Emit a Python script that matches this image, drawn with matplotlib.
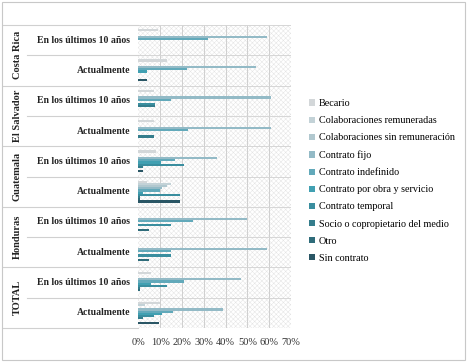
import matplotlib
matplotlib.use("Agg")
import matplotlib.pyplot as plt
import matplotlib.transforms as mtrans
from matplotlib.patches import Rectangle
from matplotlib.lines import Line2D
import numpy as np

plt.rcParams['font.family'] = ['Liberation Serif', 'DejaVu Serif']
plt.rcParams['hatch.linewidth'] = 0.35

countries = ["Costa Rica", "El Salvador", "Guatemala", "Honduras", "TOTAL"]
periods = ["En los últimos 10 años", "Actualmente"]
series = ["Becario", "Colaboraciones remuneradas", "Colaboraciones sin remuneración",
          "Contrato fijo", "Contrato indefinido", "Contrato por obra y servicio",
          "Contrato temporal", "Socio o copropietario del medio", "Otro", "Sin contrato"]
colors = ["#d3d7d9", "#c3d2d7", "#b1c8cf", "#93bac6", "#62a9ba", "#41a0b2",
          "#3a8e9f", "#347d8c", "#2f6c7a", "#2a5665"]

# values (%) per row, top to bottom; row order: country x period
# columns follow `series`
cr_10 = [9, 0, 0, 59, 32, 0, 0, 0, 0, 0]
cr_ac = [13, 0, 0, 54, 22.5, 4, 0, 0, 0, 4]
es_10 = [7, 0, 0, 61, 15, 0, 7.5, 7.5, 0, 0]
es_ac = [7, 0, 0, 61, 23, 0, 0, 7, 0, 0]
gt_10 = [8, 0, 0, 36, 17, 10.5, 21, 2, 0, 2]
gt_ac = [4, 15, 13, 11, 10, 2, 19, 1, 1, 19]
hn_10 = [0, 0, 0, 50, 25, 0, 15, 0, 5, 0]
hn_ac = [0, 0, 0, 59, 15, 0, 15, 0, 5, 0]
tt_10 = [6, 0, 0, 47, 21, 6, 13, 1, 1, 0]
tt_ac = [10, 3, 0, 39, 16, 11, 7, 2, 0, 9.5]
rows = [cr_10, cr_ac, es_10, es_ac, gt_10, gt_ac, hn_10, hn_ac, tt_10, tt_ac]
xticks = [0, 10, 20, 30, 40, 50, 60, 70]
xticklabels = ["0%", "10%", "20%", "30%", "40%", "50%", "60%", "70%"]

W, H = 467, 362
fig = plt.figure(figsize=(W / 100, H / 100), dpi=100)
fig.patch.set_facecolor("white")
fig.add_artist(Rectangle((2 / W, 2 / H), (W - 4) / W, (H - 4) / H, transform=fig.transFigure,
                         fill=False, edgecolor="#c8c8c8", linewidth=0.8))

x0, x1 = 138.3, 291.0
ytop, ybot = 25.0, 328.0
ax = fig.add_axes([x0 / W, 1 - ybot / H, (x1 - x0) / W, (ybot - ytop) / H])
ax.set_xlim(0, 70)
ax.set_ylim(len(rows), 0)
ax.set_facecolor("white")
ax.add_patch(Rectangle((0, 0), 70, len(rows), facecolor="white", edgecolor="#e4e4e4",
                       hatch="xxxxxxx", linewidth=0, zorder=0))
for s in ax.spines.values():
    s.set_visible(False)

for xv in xticks[1:]:
    ax.axvline(xv, color="#cfcfcf", linewidth=0.7, zorder=1)
for k in range(1, len(rows)):
    ax.axhline(k, color="#d6d6d6", linewidth=0.7, zorder=1)
ax.axhline(0, color="#d6d6d6", linewidth=0.7, zorder=1)
ax.axhline(len(rows), color="#d6d6d6", linewidth=0.7, zorder=1)

bw = 0.0726
margin = (1 - 10 * bw) / 2
for k, row in enumerate(rows):
    for i, v in enumerate(row):
        yc = k + margin + (i + 0.5) * bw
        ax.barh(yc, v, height=bw, color=colors[i], linewidth=0, zorder=2,
                label=series[i] if k == 0 else None)

ax.set_xticks(xticks)
ax.set_xticklabels(xticklabels, fontsize=7.5, color="#333333")
ax.tick_params(axis="x", length=0, pad=7)
ax.set_yticks([])

# left label table
bt = mtrans.blended_transform_factory(fig.transFigure, ax.transData)
for k in range(len(rows) + 1):
    xs = 3 / W if k % 2 == 0 else 27 / W
    fig.add_artist(Line2D([xs, x0 / W], [k, k], transform=bt, color="#d0d0d0", linewidth=0.8))
for k in range(len(rows)):
    fig.text(130 / W, k + 0.5, periods[k % 2], transform=bt, ha="right", va="center",
             fontsize=7, fontweight="bold", color="#222222")
for c, name in enumerate(countries):
    fig.text(17 / W, 2 * c + 1, name, transform=bt, ha="center", va="center",
             rotation=90, fontsize=7.5, fontweight="bold", color="#222222")

handles, labels = ax.get_legend_handles_labels()
leg = fig.legend(handles, labels, loc="upper left", bbox_to_anchor=(305 / W, 1 - 95 / H),
                 frameon=False, fontsize=7.3, handlelength=0.55, handleheight=0.55,
                 handletextpad=0.4, labelspacing=0.8, borderaxespad=0)

fig.savefig("out.png", dpi=100, facecolor="white")
